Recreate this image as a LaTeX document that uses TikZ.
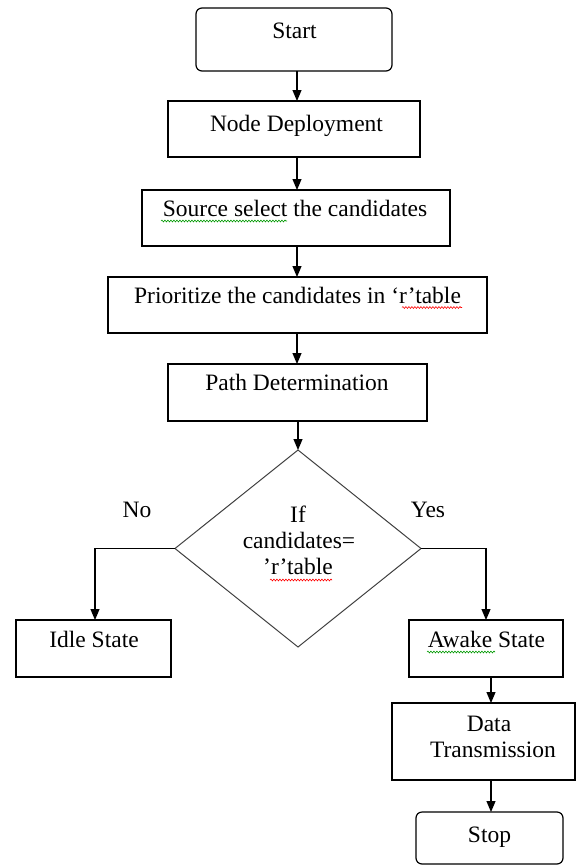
\documentclass[tikz,border=0pt]{standalone}
\usepackage{fontspec}
\setmainfont{Liberation Serif}
\usetikzlibrary{arrows.meta,shapes.geometric,decorations.pathmorphing}
\newcommand{\fsz}{\fontsize{23.5}{26}\selectfont}
\begin{document}
\begin{tikzpicture}[x=1pt,y=-1pt]
\tikzset{
  box/.style={draw, line width=1.2pt, inner sep=0pt, outer sep=0pt, anchor=north west},
  rbox/.style={box, rounded corners=6pt},
  txt/.style={font=\fsz, anchor=base, inner sep=0pt, text=black},
  flow/.style={draw, line width=1.2pt, -{Triangle[width=9pt,length=11pt]}},
  squig/.style={line width=0.6pt, decorate, decoration={snake, segment length=3pt, amplitude=0.9pt}},
}
\useasboundingbox (0,0) rectangle (580,865);
% boxes
\node[rbox, minimum width=196pt, minimum height=63pt] (start) at (196,8) {};
\node[box, minimum width=252pt, minimum height=56pt] (deploy) at (168,101) {};
\node[box, minimum width=308pt, minimum height=56pt] (source) at (142,190) {};
\node[box, minimum width=379pt, minimum height=56pt] (prior) at (108,277) {};
\node[box, minimum width=259pt, minimum height=57pt] (path) at (168,364) {};
\node[draw=black!75, line width=1pt, shape=diamond, inner sep=0pt, outer sep=0pt,
      minimum width=246pt, minimum height=197pt] (dia) at (298,548.5) {};
\node[box, minimum width=155pt, minimum height=57pt] (idle) at (16,620) {};
\node[box, minimum width=154pt, minimum height=57pt] (awake) at (409,620) {};
\node[box, minimum width=183pt, minimum height=77pt] (data) at (392,703) {};
\node[rbox, minimum width=147pt, minimum height=52pt] (stop) at (416,812) {};
% texts
\node[txt] (tstart) at (294.5,38) {Start};
\node[txt] (tdeploy) at (296.5,131) {Node Deployment};
\node[txt] (tsource) at (295,216.5) {Source select the candidates};
\node[txt] (tprior) at (297.5,303) {Prioritize the candidates in ‘r’table};
\node[txt] (tpath) at (297,390) {Path Determination};
\node[txt] (tif1) at (298,522) {If};
\node[txt] (tif2) at (299,548) {candidates=};
\node[txt] (tif3) at (298,574) {'r’table};
\node[txt] (tno) at (137,517) {No};
\node[txt] (tyes) at (428,517) {Yes};
\node[txt] (tidle) at (94,647) {Idle State};
\node[txt] (tawake) at (486.5,647) {Awake State};
\node[txt] (tdata1) at (489,731) {Data};
\node[txt] (tdata2) at (493,757) {Transmission};
\node[txt] (tstop) at (489.5,842) {Stop};
% spell-check squiggles
\draw[squig, green!60!black] (161,221) -- (287,221);
\draw[squig, red] (402,307.5) -- (462,307.5);
\draw[squig, red] (270,580) -- (332,580);
\draw[squig, green!60!black] (427,652) -- (495,652);
% connectors
\coordinate (ax) at (297,0);
\coordinate (bx) at (491,0);
\draw[flow] (start.south -| ax) -- (deploy.north -| ax);
\draw[flow] (deploy.south -| ax) -- (source.north -| ax);
\draw[flow] (source.south -| ax) -- (prior.north -| ax);
\draw[flow] (prior.south -| ax) -- (path.north -| ax);
\draw[flow] (path.south -| dia.north) -- (dia.north);
\draw[flow] (dia.west) -| ([xshift=1.5pt]idle.north);
\draw[flow] (dia.east) -| (awake.north);
\draw[flow] (awake.south -| bx) -- (data.north -| bx);
\draw[flow] (data.south -| bx) -- (stop.north -| bx);
\end{tikzpicture}
\end{document}
